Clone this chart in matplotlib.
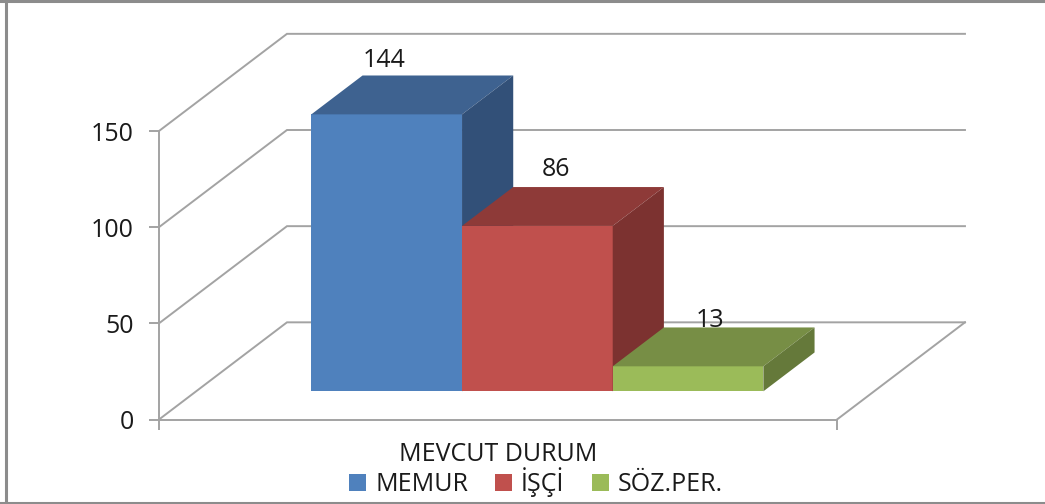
"""Recreate the pseudo-3D column chart MEVCUT DURUM."""

import matplotlib

matplotlib.use("Agg")
import matplotlib.pyplot as plt
from matplotlib.lines import Line2D
from matplotlib.patches import Patch

plt.rcParams["font.family"] = ["Open Sans", "DejaVu Sans"]

category = "MEVCUT DURUM"
series = ["MEMUR", "İŞÇİ", "SÖZ.PER."]
values = [144, 86, 13]
y_ticks = [0, 50, 100, 150]

# face, top, side
front_colors = ["#4F81BD", "#C0504D", "#9BBB59"]
top_colors = ["#3E6290", "#8E3A38", "#778E45"]
side_colors = ["#325078", "#7C3230", "#65793A"]
label_offsets = [(-2.5, 38), (19, 40), (21.5, 30)]

GRID = "#A3A3A3"
W, H = 1045, 504
FONT = 18
DEPTH_X = 128 / 150.7  # whole floor depth, in bar widths
DEPTH_Y = 97 / 1.92  # whole floor depth, in value units
BAR_NEAR = 0.29
BAR_FAR = 0.69


def project(x, v, d):
    """Shift a point of the front plane back to depth d."""
    return x + DEPTH_X * d, v + DEPTH_Y * d


def face(ax, corners, color):
    xs, ys = zip(*[project(*c) for c in corners])
    ax.fill(xs, ys, color=color, lw=0, clip_on=False, zorder=3)


fig = plt.figure(figsize=(W / 100, H / 100), dpi=100)
ax = fig.add_axes([159 / W, 1 - 419.5 / H, 678 / W, 288.5 / H])
ax.set_xlim(-0.765, 3.735)
ax.set_ylim(0, 150)
ax.patch.set_visible(False)

for s in ["top", "right"]:
    ax.spines[s].set_visible(False)
for s in ["left", "bottom"]:
    ax.spines[s].set_color(GRID)
    ax.spines[s].set_linewidth(1.4)

ax.set_yticks(y_ticks)
ax.set_xticks(list(ax.get_xlim()), ["", ""])
ax.tick_params(axis="both", color=GRID, width=1.4, length=7)
ax.tick_params(axis="y", labelsize=FONT, labelcolor="#1a1a1a", pad=11)
ax.set_xlabel(category, fontsize=FONT, color="#1a1a1a", labelpad=6, x=0.5)

# walls and floor
x0, x1 = ax.get_xlim()
for t in y_ticks:
    bx, by = project(x0, t, 1)
    ax.plot([x0, bx, project(x1, t, 1)[0]], [t, by, by], color=GRID, lw=1.4,
            clip_on=False, zorder=1, solid_joinstyle="miter")
ax.plot(*zip(project(x1, 0, 0), project(x1, 0, 1)), color=GRID, lw=1.4,
        clip_on=False, zorder=1)

# bars, left to right so each one covers the side of the previous
for i, v in enumerate(values):
    left, right = i, i + 1
    face(ax, [(left, 0, BAR_NEAR), (right, 0, BAR_NEAR),
              (right, v, BAR_NEAR), (left, v, BAR_NEAR)], front_colors[i])
    face(ax, [(left, v, BAR_NEAR), (right, v, BAR_NEAR),
              (right, v, BAR_FAR), (left, v, BAR_FAR)], top_colors[i])
    face(ax, [(right, 0, BAR_NEAR), (right, 0, BAR_FAR),
              (right, v, BAR_FAR), (right, v, BAR_NEAR)], side_colors[i])

for i, v in enumerate(values):
    px, py = project(i + 0.5, v, BAR_NEAR)
    dx, dy = label_offsets[i]
    ax.annotate(str(v), (px, py), xytext=(dx * 0.72, (dy + 16) * 0.72),
                textcoords="offset points", ha="center", va="center",
                fontsize=FONT, color="#1a1a1a", zorder=5, annotation_clip=False)

handles = [Patch(facecolor=c, edgecolor="none") for c in front_colors]
fig.legend(handles, series, ncol=3, loc="center", bbox_to_anchor=(536 / W, 1 - 482 / H),
           frameon=False, fontsize=FONT, labelcolor="#1a1a1a", handlelength=0.68,
           handleheight=0.68, handletextpad=0.36, columnspacing=1.08,
           borderpad=0, borderaxespad=0)

# frame of the picture: left, top and bottom only
for xs, ys in [((5.5, 5.5), (0, H)), ((0, W), (1, 1)), ((0, W), (H - 1.5, H - 1.5))]:
    fig.add_artist(Line2D([x / W for x in xs], [1 - y / H for y in ys],
                          color="#8C8C8C", lw=2.2, transform=fig.transFigure))

fig.savefig("out.png", dpi=100, facecolor="white")
